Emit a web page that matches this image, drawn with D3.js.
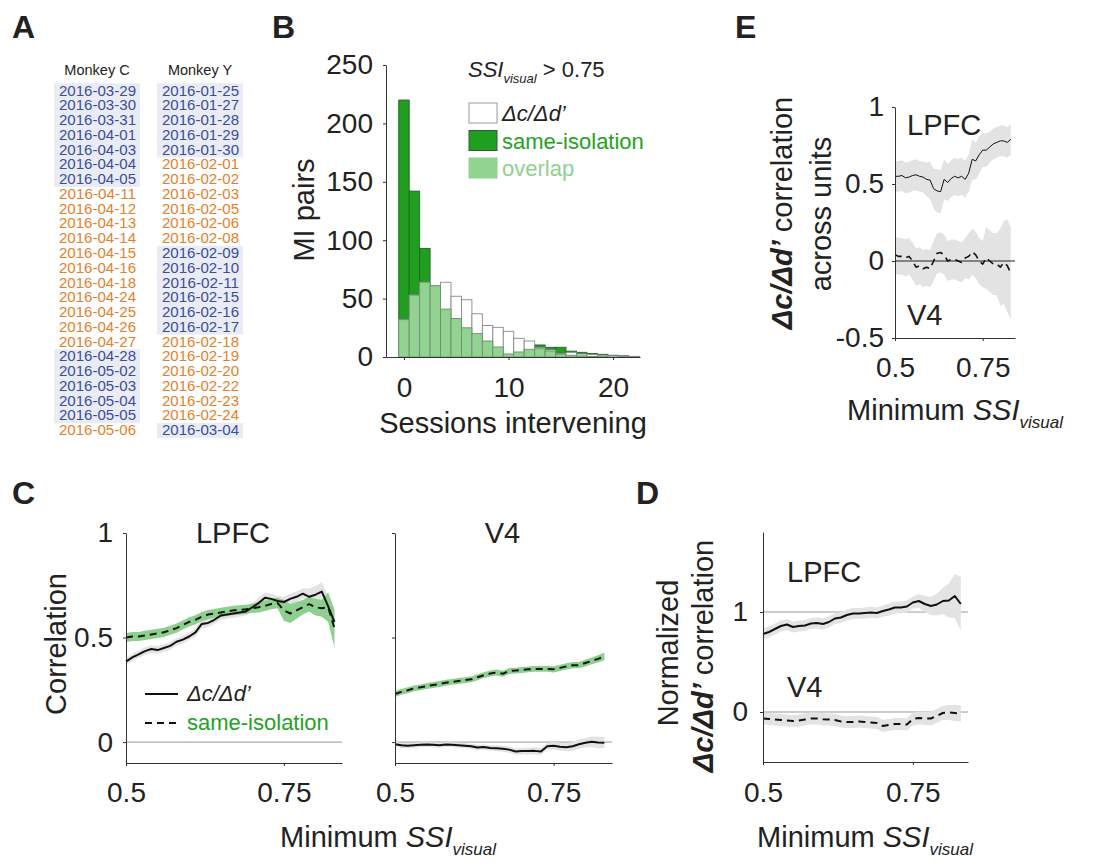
<!DOCTYPE html>
<html lang="en">
<head>
<meta charset="UTF-8">
<title>Sessions and correlation figure</title>
<script src="https://d3js.org/d3.v7.min.js"></script>
<style>
  body { margin: 0; background: #fff; }
  svg text { font-family: "Liberation Sans", Arial, Helvetica, sans-serif; fill: #222; }
</style>
</head>
<body>
<div id="fig"></div>
<script>
// ---------- panel A: session list
const monkeyC = ["2016-03-29","2016-03-30","2016-03-31","2016-04-01","2016-04-03","2016-04-04","2016-04-05",
  "2016-04-11","2016-04-12","2016-04-13","2016-04-14","2016-04-15","2016-04-16","2016-04-18","2016-04-24",
  "2016-04-25","2016-04-26","2016-04-27","2016-04-28","2016-05-02","2016-05-03","2016-05-04","2016-05-05","2016-05-06"];
const monkeyY = ["2016-01-25","2016-01-27","2016-01-28","2016-01-29","2016-01-30","2016-02-01","2016-02-02",
  "2016-02-03","2016-02-05","2016-02-06","2016-02-08","2016-02-09","2016-02-10","2016-02-11","2016-02-15",
  "2016-02-16","2016-02-17","2016-02-18","2016-02-19","2016-02-20","2016-02-22","2016-02-23","2016-02-24","2016-03-04"];
// b = blue (highlighted), o = orange
const monkeyCGroup = "bbbbbbbooooooooooobbbbbo".split("");
const monkeyYGroup = "bbbbboooooobbbbbboooooob".split("");

// ---------- panel B: histogram of sessions intervening
const sessionBins  = [0,1,2,3,4,5,6,7,8,9,10,11,12,13,14,15,16,17,18,19,20,21,22];
const sameIsoCount = [220,142,93,55,45,35,28,22,16,12,8,8,9,10.3,8.3,8.3,5,4,3,2.3,1.5,1,0.5];
const dcddCount    = [32,53,64,61,64,52,49,37,27,25.4,22,16,13.7,8,6,3,4,2.5,2,1.5,1,0.7,0.5];
const overlapCount = [32,53,64,61,41,33,25,20,13.7,8.6,2.6,4.3,6.6,7.1,5.1,2.3,1.5,1,0.5,0.3,0,0,0];
const histYTicks = [0,50,100,150,200,250];
const histXTicks = [0,10,20];

// ---------- minimum SSI thresholds (shared x for C, D, E)
const minSSI = [0.50,0.51,0.52,0.53,0.54,0.55,0.56,0.57,0.58,0.59,0.60,0.61,0.62,0.63,0.64,0.65,0.66,
  0.67,0.68,0.69,0.70,0.71,0.72,0.73,0.74,0.75,0.76,0.77,0.78,0.79,0.80,0.81,0.82,0.83];
const ssiTicks = [0.5, 0.75];

// panel C, LPFC
const cLpfcDcdd    = [0.385,0.405,0.42,0.435,0.445,0.44,0.45,0.46,0.48,0.49,0.505,0.525,0.565,0.57,0.585,0.605,0.61,
  0.615,0.62,0.625,0.645,0.665,0.69,0.685,0.675,0.67,0.685,0.695,0.71,0.695,0.705,0.72,0.65,0.575];
const cLpfcDcddErr = [0.018,0.018,0.018,0.018,0.018,0.018,0.018,0.018,0.018,0.018,0.018,0.02,0.02,0.02,0.02,0.02,0.02,
  0.02,0.02,0.02,0.02,0.025,0.025,0.025,0.025,0.025,0.025,0.025,0.025,0.04,0.04,0.045,0.05,0.06];
const cLpfcSame    = [0.5,0.505,0.505,0.51,0.515,0.52,0.525,0.535,0.545,0.56,0.575,0.585,0.6,0.61,0.615,0.62,0.625,
  0.63,0.632,0.635,0.64,0.645,0.652,0.66,0.665,0.63,0.615,0.63,0.645,0.66,0.645,0.64,0.645,0.545];
const cLpfcSameErr = [0.022,0.022,0.022,0.022,0.022,0.022,0.022,0.022,0.022,0.022,0.022,0.022,0.022,0.022,0.022,0.022,0.022,
  0.022,0.022,0.022,0.022,0.025,0.025,0.025,0.025,0.05,0.045,0.04,0.035,0.035,0.04,0.04,0.07,0.09];
// panel C, V4
const cV4Dcdd    = [-0.01,-0.015,-0.017,-0.015,-0.013,-0.012,-0.013,-0.015,-0.011,-0.013,-0.015,-0.017,-0.02,-0.026,-0.024,-0.028,-0.03,
  -0.032,-0.036,-0.045,-0.043,-0.043,-0.042,-0.045,-0.02,-0.018,-0.022,-0.025,-0.02,-0.01,-0.003,0.002,-0.002,-0.003];
const cV4DcddErr = [0.012,0.012,0.012,0.012,0.012,0.012,0.012,0.012,0.012,0.012,0.012,0.012,0.012,0.013,0.013,0.013,0.014,
  0.014,0.015,0.015,0.015,0.016,0.017,0.017,0.017,0.018,0.019,0.019,0.021,0.022,0.023,0.025,0.027,0.027];
const cV4Same    = [0.23,0.24,0.248,0.257,0.262,0.268,0.273,0.278,0.284,0.288,0.292,0.296,0.3,0.31,0.32,0.328,0.333,
  0.327,0.34,0.342,0.345,0.348,0.35,0.35,0.35,0.348,0.355,0.362,0.368,0.368,0.378,0.388,0.398,0.41];
const cV4SameErr = [0.014,0.014,0.014,0.014,0.014,0.014,0.014,0.014,0.014,0.014,0.014,0.014,0.014,0.014,0.014,0.014,0.014,
  0.014,0.014,0.014,0.014,0.014,0.014,0.014,0.014,0.015,0.015,0.015,0.015,0.015,0.016,0.016,0.017,0.018];

// panel D: normalized correlation
const dLpfc    = [0.78,0.80,0.83,0.86,0.875,0.85,0.86,0.865,0.885,0.89,0.88,0.9,0.935,0.945,0.97,0.985,0.985,
  0.99,0.995,0.99,1.01,1.025,1.045,1.045,1.055,1.095,1.11,1.08,1.06,1.075,1.11,1.115,1.16,1.08];
const dLpfcErr = [0.055,0.055,0.055,0.055,0.055,0.055,0.055,0.055,0.055,0.055,0.055,0.055,0.055,0.055,0.055,0.055,0.055,
  0.055,0.055,0.055,0.055,0.06,0.06,0.06,0.06,0.06,0.07,0.08,0.09,0.11,0.13,0.17,0.22,0.27];
const dV4      = [-0.065,-0.07,-0.075,-0.08,-0.085,-0.09,-0.085,-0.075,-0.065,-0.065,-0.072,-0.075,-0.08,-0.095,-0.1,-0.1,-0.095,
  -0.1,-0.105,-0.11,-0.14,-0.13,-0.12,-0.12,-0.125,-0.07,-0.06,-0.065,-0.065,-0.04,-0.01,-0.005,-0.01,-0.015];
const dV4Err   = [0.06,0.06,0.06,0.06,0.06,0.06,0.06,0.06,0.06,0.06,0.06,0.06,0.06,0.06,0.06,0.06,0.06,
  0.06,0.06,0.06,0.06,0.06,0.06,0.06,0.06,0.065,0.065,0.065,0.07,0.07,0.07,0.075,0.08,0.08];

// panel E: correlation across units
const eLpfc    = [0.55,0.55,0.555,0.54,0.545,0.555,0.56,0.55,0.545,0.53,0.525,0.47,0.455,0.45,0.53,0.51,0.535,
  0.55,0.54,0.55,0.53,0.57,0.66,0.65,0.69,0.72,0.72,0.74,0.76,0.77,0.78,0.78,0.77,0.79];
const eLpfcErr = [0.1,0.1,0.1,0.1,0.1,0.1,0.1,0.1,0.1,0.11,0.12,0.13,0.14,0.14,0.13,0.12,0.12,
  0.12,0.12,0.12,0.12,0.12,0.13,0.12,0.12,0.11,0.11,0.1,0.1,0.1,0.1,0.1,0.1,0.1];
const eV4      = [0.04,0.03,0.03,0.02,0.03,0.0,-0.04,-0.03,-0.05,-0.04,-0.05,0.0,0.05,0.055,0.04,0.0,0.01,
  0.01,0.0,-0.01,0.02,0.03,0.06,0.04,0.0,-0.02,0.02,0.0,-0.02,-0.02,-0.04,-0.01,-0.03,-0.08];
const eV4Err   = [0.12,0.12,0.12,0.12,0.12,0.12,0.12,0.12,0.12,0.12,0.12,0.13,0.13,0.13,0.13,0.13,0.13,
  0.13,0.13,0.13,0.13,0.15,0.15,0.15,0.15,0.15,0.2,0.2,0.2,0.2,0.25,0.27,0.3,0.3];

// ---------- colours
const blueText = "#3c4d9e", orangeText = "#e57f2c", blueBg = "#e9ecf5";
const darkGreen = "#1f9e1f", lightGreen = "#92d392", greenText = "#22a322";
const grayBand = "#e3e3e3", greenBand = "#8dcf8d";

const W = 1103, H = 863;
const svg = d3.select("#fig").append("svg").attr("width", W).attr("height", H);

// panel letters
[["A", 12, 38], ["B", 272, 38], ["E", 735, 38], ["C", 12, 504], ["D", 636, 504]].forEach(d => {
  svg.append("text").attr("x", d[1]).attr("y", d[2]).attr("font-size", 32)
    .attr("font-weight", "bold").attr("fill", "#111").text(d[0]);
});

// ================= A
const rowTop = 83.3, rowH = 14.77;
function sessionColumn(dates, groups, bgX, textX, title, titleX) {
  svg.append("text").attr("x", titleX).attr("y", 75).attr("text-anchor", "middle")
    .attr("font-size", 14.5).text(title);
  const g = svg.append("g");
  g.selectAll("rect").data(dates).enter().filter((d, i) => groups[i] === "b")
    .append("rect")
    .attr("x", bgX).attr("width", 86)
    .attr("y", (d) => rowTop + dates.indexOf(d) * rowH).attr("height", rowH + 0.3)
    .attr("fill", blueBg);
  g.selectAll("text").data(dates).enter().append("text")
    .attr("x", textX).attr("y", (d, i) => rowTop + i * rowH + 12.2)
    .attr("font-size", 14.5).attr("textLength", 77).attr("lengthAdjust", "spacingAndGlyphs")
    .style("fill", (d, i) => groups[i] === "b" ? blueText : orangeText)
    .text(d => d);
}
sessionColumn(monkeyC, monkeyCGroup, 54, 59, "Monkey C", 97);
sessionColumn(monkeyY, monkeyYGroup, 157, 162, "Monkey Y", 200);

// ---------- generic axis helpers
function styleAxis(g, fontSize) {
  g.select(".domain").attr("stroke", "#333");
  g.selectAll(".tick line").attr("stroke", "#333");
  g.selectAll(".tick text").attr("font-size", fontSize).style("fill", "#222")
    .attr("font-family", "Liberation Sans, Arial, sans-serif");
}
function leftAxis(x, scale, ticks, labels, pad) {
  const ax = d3.axisLeft(scale).tickValues(ticks).tickSize(3).tickSizeOuter(0).tickPadding(pad)
    .tickFormat(labels ? (d => String(d)) : "");
  const g = svg.append("g").attr("transform", `translate(${x},0)`).call(ax);
  styleAxis(g, 28);
  return g;
}
function bottomAxis(y, scale, ticks, pad) {
  const ax = d3.axisBottom(scale).tickValues(ticks).tickSize(3).tickSizeOuter(0).tickPadding(pad)
    .tickFormat(d => String(d));
  const g = svg.append("g").attr("transform", `translate(0,${y})`).call(ax);
  styleAxis(g, 28);
  return g;
}
function ssiLabel(cx, y) {
  const t = svg.append("text").attr("x", cx).attr("y", y).attr("text-anchor", "middle").attr("font-size", 29);
  t.append("tspan").text("Minimum ");
  t.append("tspan").attr("font-style", "italic").text("SSI");
  t.append("tspan").attr("font-style", "italic").attr("font-size", 17).attr("dy", 8).text("visual");
}
function yLabel(x, cy, parts, size) {
  const t = svg.append("text").attr("transform", `translate(${x},${cy}) rotate(-90)`)
    .attr("text-anchor", "middle").attr("font-size", size || 29);
  parts.forEach(p => {
    const s = t.append("tspan").text(p[0]);
    if (p[1]) s.attr("font-style", "italic").attr("font-weight", "bold");
  });
}
function band(g, xs, ys, vals, errs, fill) {
  const area = d3.area().x((d, i) => xs(minSSI[i]))
    .y0((d, i) => ys(vals[i] - errs[i])).y1((d, i) => ys(vals[i] + errs[i]));
  g.append("path").datum(vals).attr("d", area).attr("fill", fill);
}
function trace(g, xs, ys, vals, width, dash) {
  const line = d3.line().x((d, i) => xs(minSSI[i])).y(d => ys(d));
  const p = g.append("path").datum(vals).attr("d", line).attr("fill", "none")
    .attr("stroke", "#111").attr("stroke-width", width).attr("stroke-linejoin", "round");
  if (dash) p.attr("stroke-dasharray", dash);
}

// ================= B
const xB = d3.scaleLinear().domain([-1.72, 22.58]).range([386, 640]);
const yB = d3.scaleLinear().domain([0, 250]).range([357, 65]);
const gB = svg.append("g");
function bars(counts, fill, stroke) {
  gB.append("g").selectAll("rect").data(sessionBins).enter().append("rect")
    .attr("x", d => xB(d - 0.5)).attr("width", xB(1) - xB(0))
    .attr("y", (d, i) => yB(counts[i])).attr("height", (d, i) => yB(0) - yB(counts[i]))
    .attr("fill", fill).attr("stroke", stroke).attr("stroke-width", 0.9);
}
bars(sameIsoCount, darkGreen, "#2c5f2c");
bars(dcddCount, "#ffffff", "#8a8a8a");
bars(overlapCount, lightGreen, "#6f8f6f");
leftAxis(386, yB, histYTicks, true, 10);
bottomAxis(357, xB, histXTicks, 17);
yLabel(314, 210, [["MI pairs"]]);
svg.append("text").attr("x", 513).attr("y", 433).attr("text-anchor", "middle").attr("font-size", 29)
  .text("Sessions intervening");

// legend B
const lt = svg.append("text").attr("x", 468).attr("y", 77).attr("font-size", 22);
lt.append("tspan").attr("font-style", "italic").text("SSI");
lt.append("tspan").attr("font-style", "italic").attr("font-size", 13).attr("dy", 6).text("visual");
lt.append("tspan").attr("dy", -6).text(" > 0.75");
const legB = [
  { fill: "#ffffff", stroke: "#999", label: "Δc/Δd’", color: "#222", italic: true, y: 103 },
  { fill: darkGreen, stroke: "#2c5f2c", label: "same-isolation", color: greenText, italic: false, y: 130.5 },
  { fill: lightGreen, stroke: lightGreen, label: "overlap", color: "#8fd18f", italic: false, y: 158 }
];
legB.forEach(d => {
  svg.append("rect").attr("x", 469).attr("y", d.y).attr("width", 28).attr("height", 20)
    .attr("fill", d.fill).attr("stroke", d.stroke);
  svg.append("text").attr("x", 502).attr("y", d.y + 18).attr("font-size", 22)
    .attr("font-style", d.italic ? "italic" : "normal").style("fill", d.color).text(d.label);
});

// ================= C
const yC = d3.scaleLinear().domain([-0.1, 1]).range([763, 533]);
const xC1 = d3.scaleLinear().domain([0.5, 0.842]).range([126, 342]);
const xC2 = d3.scaleLinear().domain([0.5, 0.842]).range([395, 612]);
[[xC1, cLpfcDcdd, cLpfcDcddErr, cLpfcSame, cLpfcSameErr, true, "LPFC"],
 [xC2, cV4Dcdd, cV4DcddErr, cV4Same, cV4SameErr, false, "V4"]].forEach(p => {
  const xs = p[0];
  const g = svg.append("g");
  g.append("line").attr("x1", xs.range()[0]).attr("x2", xs.range()[1])
    .attr("y1", yC(0)).attr("y2", yC(0)).attr("stroke", "#9a9a9a").attr("stroke-width", 1);
  band(g, xs, yC, p[1], p[2], grayBand);
  band(g, xs, yC, p[3], p[4], greenBand);
  trace(g, xs, yC, p[1], 2);
  trace(g, xs, yC, p[3], 2, "7,5");
  leftAxis(xs.range()[0], yC, [0, 0.5, 1], p[5], 10);
  bottomAxis(763, xs, ssiTicks, 16);
  svg.append("text").attr("x", (xs.range()[0] + xs.range()[1]) / 2 - 1).attr("y", 543)
    .attr("text-anchor", "middle").attr("font-size", 29).text(p[6]);
});
yLabel(66, 644, [["Correlation"]]);
ssiLabel(388, 847);
// legend C
svg.append("line").attr("x1", 145).attr("x2", 178).attr("y1", 694).attr("y2", 694)
  .attr("stroke", "#111").attr("stroke-width", 2);
svg.append("line").attr("x1", 145).attr("x2", 178).attr("y1", 723).attr("y2", 723)
  .attr("stroke", "#111").attr("stroke-width", 2).attr("stroke-dasharray", "7,5");
svg.append("text").attr("x", 187).attr("y", 701).attr("font-size", 22).attr("font-style", "italic").text("Δc/Δd’");
svg.append("text").attr("x", 187).attr("y", 730).attr("font-size", 22).style("fill", greenText).text("same-isolation");

// ================= D
const xD = d3.scaleLinear().domain([0.5, 0.842]).range([763, 968]);
const yD = d3.scaleLinear().domain([-0.5, 1.8]).range([762, 532]);
const gD = svg.append("g");
[0, 1].forEach(v => gD.append("line").attr("x1", 763).attr("x2", 968).attr("y1", yD(v)).attr("y2", yD(v))
  .attr("stroke", "#9a9a9a").attr("stroke-width", 1));
band(gD, xD, yD, dLpfc, dLpfcErr, grayBand);
band(gD, xD, yD, dV4, dV4Err, grayBand);
trace(gD, xD, yD, dLpfc, 2);
trace(gD, xD, yD, dV4, 2, "7,5");
leftAxis(763, yD, [0, 1], true, 12);
bottomAxis(762, xD, ssiTicks, 17);
svg.append("text").attr("x", 787).attr("y", 582).attr("font-size", 29).text("LPFC");
svg.append("text").attr("x", 787).attr("y", 697).attr("font-size", 29).text("V4");
yLabel(678, 653, [["Normalized"]]);
yLabel(713, 656, [["Δc/Δd’", true], [" correlation"]]);
ssiLabel(865, 847);

// ================= E
const xE = d3.scaleLinear().domain([0.5, 0.842]).range([895, 1015]);
const yE = d3.scaleLinear().domain([-0.5, 1]).range([338, 107]);
const gE = svg.append("g");
band(gE, xE, yE, eLpfc, eLpfcErr, grayBand);
band(gE, xE, yE, eV4, eV4Err, grayBand);
gE.append("line").attr("x1", 895).attr("x2", 1015).attr("y1", yE(0)).attr("y2", yE(0))
  .attr("stroke", "#222").attr("stroke-width", 1);
trace(gE, xE, yE, eLpfc, 1);
trace(gE, xE, yE, eV4, 1.6, "7,5");
leftAxis(895, yE, [-0.5, 0, 0.5, 1], true, 8);
bottomAxis(338, xE, ssiTicks, 16);
svg.append("text").attr("x", 907).attr("y", 135).attr("font-size", 29).text("LPFC");
svg.append("text").attr("x", 907).attr("y", 325).attr("font-size", 29).text("V4");
yLabel(792, 213, [["Δc/Δd’", true], [" correlation"]]);
yLabel(831, 214, [["across units"]]);
ssiLabel(955, 420);
</script>
</body>
</html>
